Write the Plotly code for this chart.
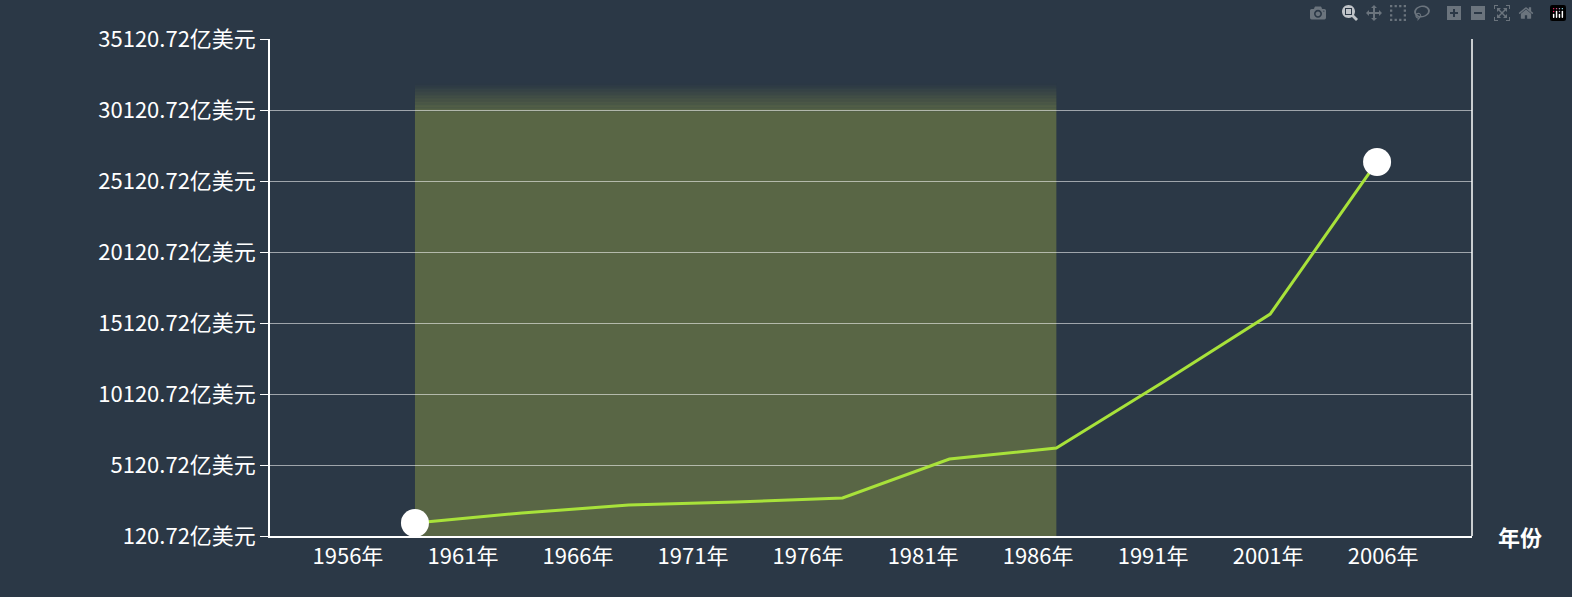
import plotly.graph_objects as go

years = ['1956年', '1961年', '1966年', '1971年', '1976年', '1981年', '1986年', '1991年', '2001年', '2006年']
gdp = [1036, 1740, 2300, 2515, 2800, 5540, 6320, 10970, 15750, 26460]
y_ticks = [120.72 + 5000 * i for i in range(8)]
y_labels = ['%.2f亿美元' % v for v in y_ticks]

idx = list(range(len(years)))
# category labels sit on a slightly wider spacing than the points
label_pos = [-0.627 + 1.076 * i for i in idx]

fig = go.Figure()

# shaded band 1956-1986 with a soft fade at the top
band_top = 32000
fade_start = band_top - 2000
fig.add_shape(type='rect', x0=idx[0], x1=idx[6], y0=120.72, y1=fade_start,
              fillcolor='rgba(128,140,70,0.55)', line_width=0, layer='below')
steps = 20
for k in range(steps):
    fig.add_shape(type='rect', x0=idx[0], x1=idx[6],
                  y0=fade_start + k * 2000 / steps, y1=fade_start + (k + 1) * 2000 / steps,
                  fillcolor='rgba(128,140,70,%.3f)' % (0.55 * (1 - (k + 0.5) / steps)),
                  line_width=0, layer='below')

fig.add_trace(go.Scatter(x=idx, y=gdp, mode='lines', line=dict(color='#a8e23a', width=3),
                         hoverinfo='skip'))
fig.add_trace(go.Scatter(x=[idx[0], idx[-1]], y=[gdp[0], gdp[-1]], mode='markers',
                         marker=dict(color='white', size=28), hoverinfo='skip'))

fig.add_annotation(text='<b>年份</b>', xref='paper', yref='paper', x=1.02, y=0, xanchor='left',
                   yanchor='middle', showarrow=False, font=dict(size=22, color='white'))
# right border line
fig.add_shape(type='line', xref='paper', yref='paper', x0=1, x1=1, y0=0, y1=1,
              line=dict(color='white', width=1.5))

fig.update_layout(
    width=1572, height=597,
    margin=dict(l=270, r=100, t=39, b=61),
    paper_bgcolor='#2b3846', plot_bgcolor='#2b3846',
    showlegend=False,
    font=dict(family='Noto Sans CJK SC', color='white', size=22),
    xaxis=dict(range=[-1.356, 9.888], tickvals=label_pos, ticktext=years, showgrid=False,
               zeroline=False, showline=True, linecolor='white', linewidth=1.5,
               ticks='', tickfont=dict(size=22)),
    yaxis=dict(range=[120.72, 35120.72], tickvals=y_ticks, ticktext=y_labels,
               gridcolor='rgba(255,255,255,0.55)', gridwidth=1, zeroline=False,
               showline=True, linecolor='white', linewidth=1.5, ticks='outside',
               ticklen=8, tickcolor='white', tickfont=dict(size=22)),
)

fig.write_html('out.html',
               post_script="document.body.style.margin='0';document.body.style.background='#2b3846';")
